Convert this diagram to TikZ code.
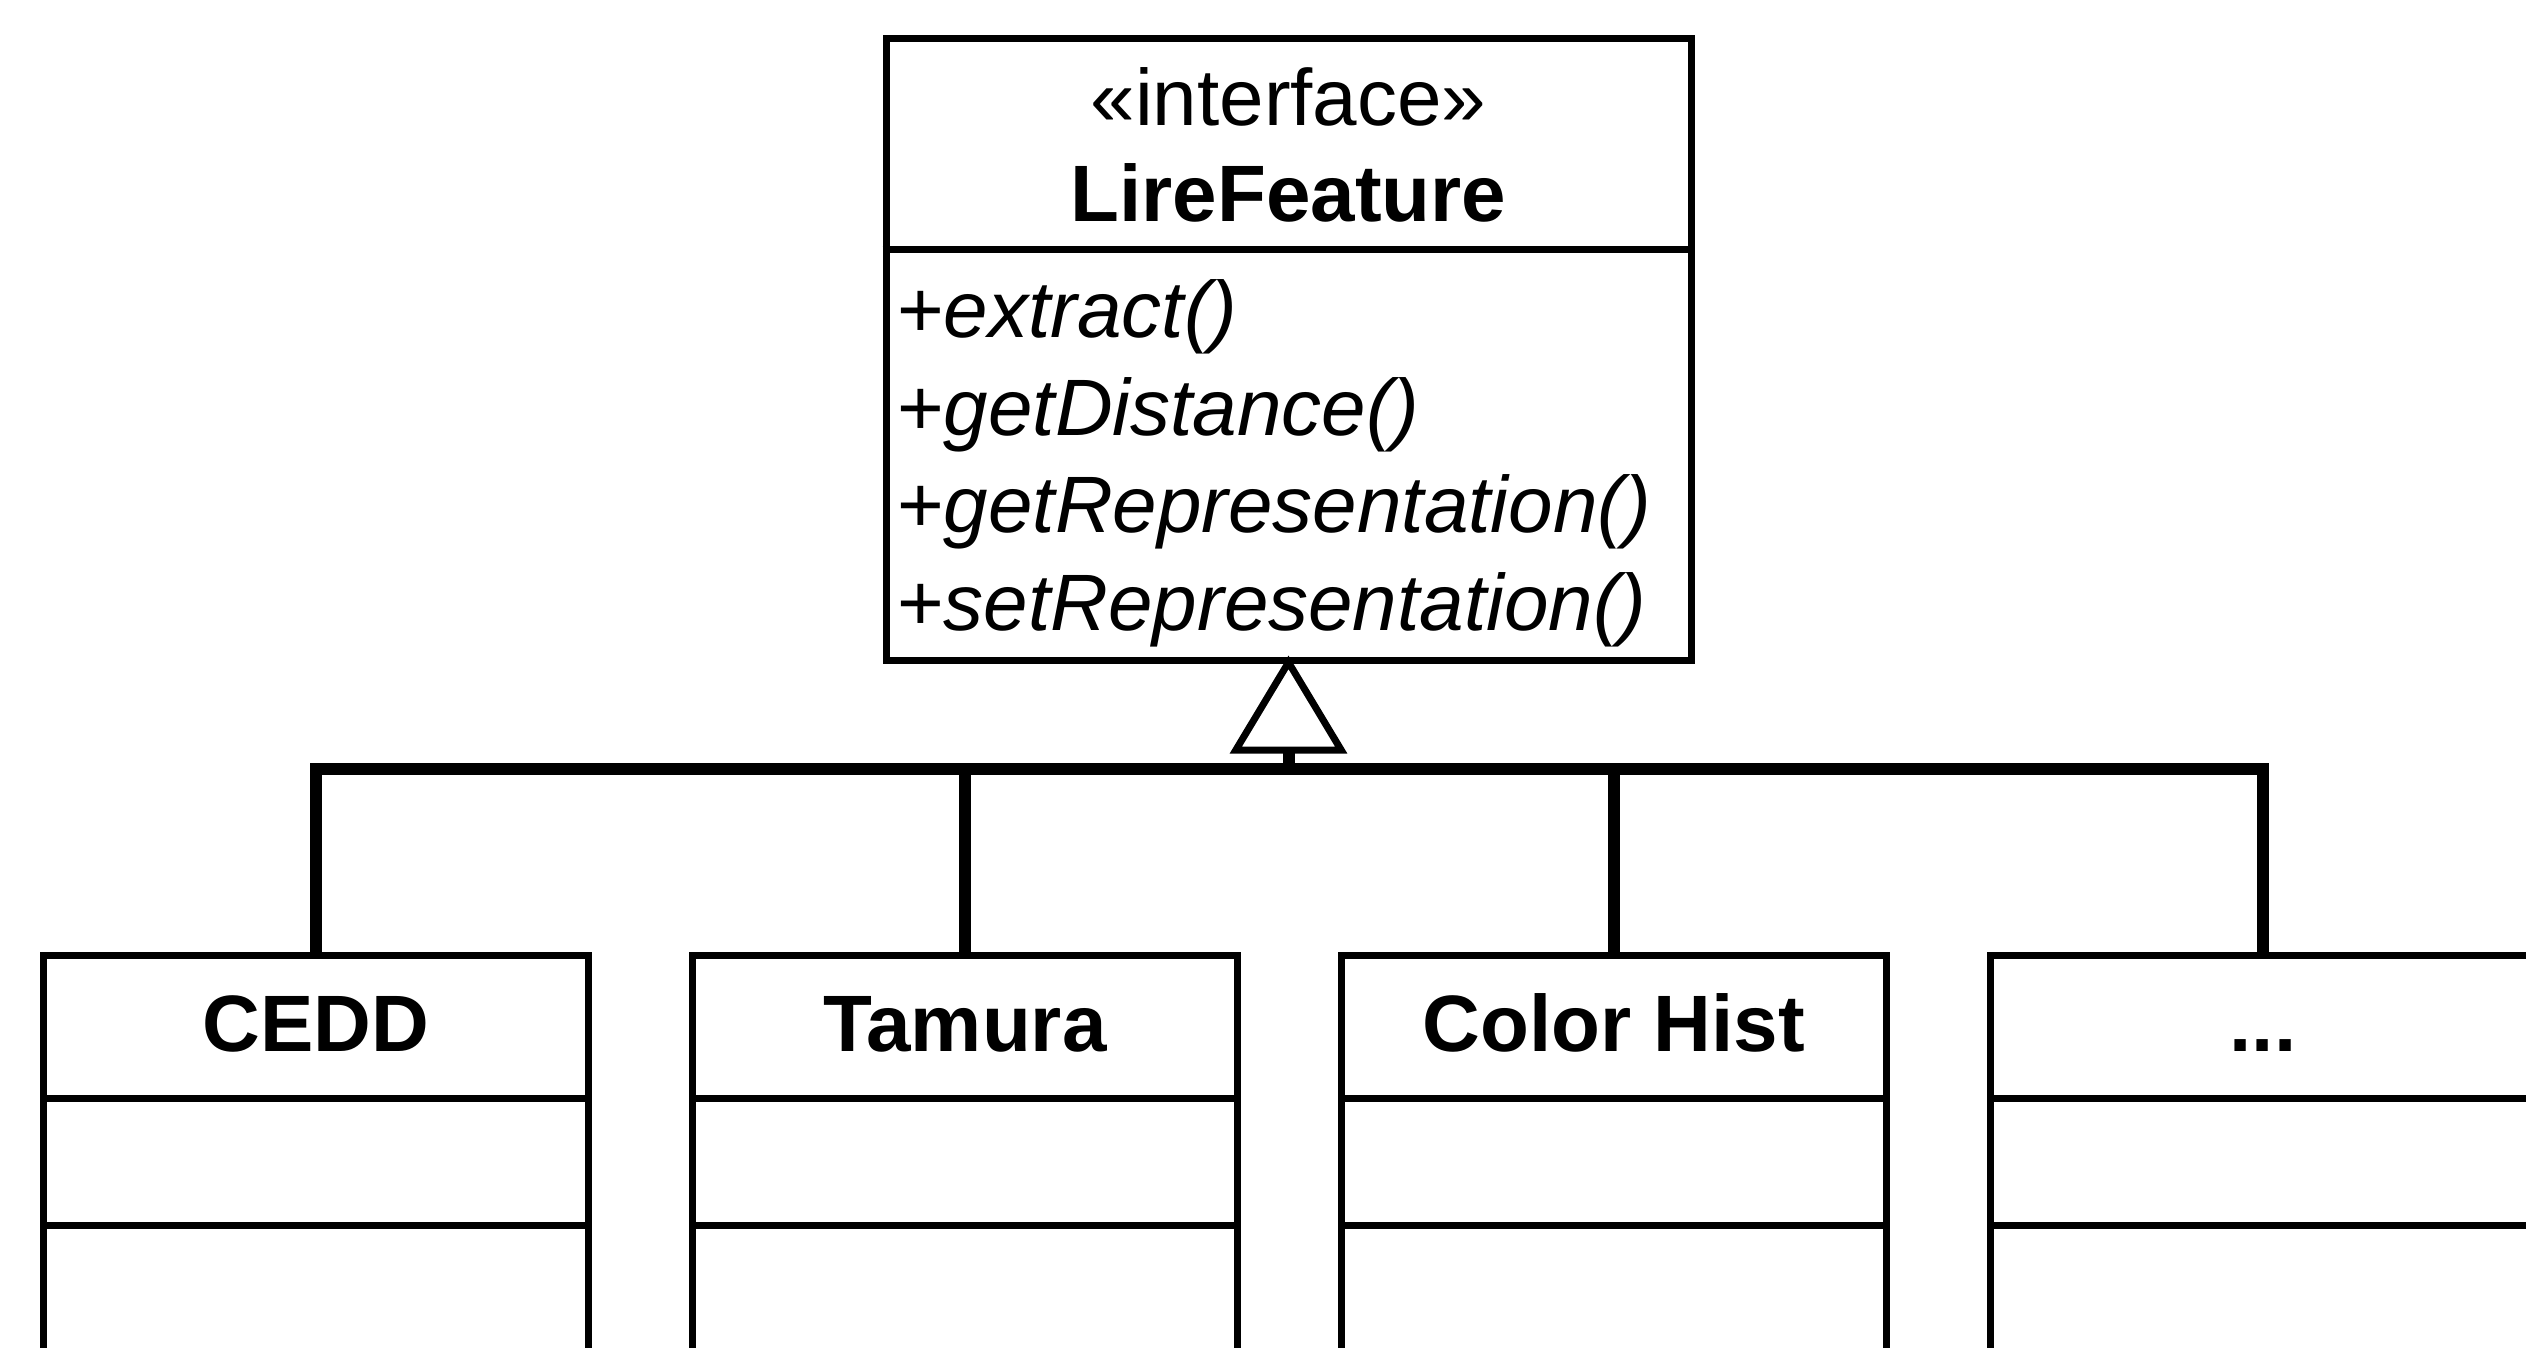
\documentclass[tikz,border=0pt]{standalone}
\usepackage{fontspec}
\setmainfont{Liberation Sans}
\usetikzlibrary{arrows.meta}

\newcommand{\moredots}{...}

\tikzset{
	umlbox/.style={draw, line width=7pt, inner sep=0pt},
	umltext/.style={font=\fontsize{80}{97}\selectfont, inner sep=0pt},
	divider/.style={line width=7pt},
	realize/.style={line width=12pt},
}

\begin{document}
\begin{tikzpicture}[x=1pt,y=-1pt]
	\clip (0,0) rectangle (2526,1348);
	\fill[white] (0,0) rectangle (2526,1348);
	% interface
	\node[umlbox, minimum width=805pt, minimum height=621pt] (iface) at (1288.5,349.5) {};
	\draw[divider] ([yshift=-214pt]iface.north west) -- ([yshift=-214pt]iface.north east);
	\node[umltext, anchor=base] (stereo) at (1288.5,126) {«interface»};
	\node[umltext, anchor=base] (ifname) at (1288.5,222) {\bfseries LireFeature};
	\node[umltext, anchor=base west] (m1) at (897,337) {+\textit{extract()}};
	\node[umltext, anchor=base west] (m2) at (897,435) {+\textit{getDistance()}};
	\node[umltext, anchor=base west] (m3) at (897,532) {+\textit{getRepresentation()}};
	\node[umltext, anchor=base west] (m4) at (897,630) {+\textit{setRepresentation()}};
	% implementing classes
	\foreach \name/\txt [count=\i from 0] in {cedd/CEDD, tamura/Tamura, colorhist/Color Hist, more/\moredots}{
		\node[umlbox, minimum width=545pt, minimum height=460pt] (\name) at (316+649*\i,1185) {};
		\node[umltext, anchor=base] (\name-title) at ([yshift=-100pt]\name.north) {\bfseries \txt};
		\draw[divider] ([yshift=-147pt]\name.north west) -- ([yshift=-147pt]\name.north east);
		\draw[divider] ([yshift=-274pt]\name.north west) -- ([yshift=-274pt]\name.north east);
	}
	% realization
	\coordinate (bus) at (1288.5,769);
	\foreach \name in {cedd,tamura,colorhist,more}
		\draw[realize] (\name.north) |- (bus);
	\draw[realize, -{Triangle[open, length=98pt, width=116pt, line width=7pt]}] (bus) -- ([yshift=8pt]iface.south);
\end{tikzpicture}
\end{document}
